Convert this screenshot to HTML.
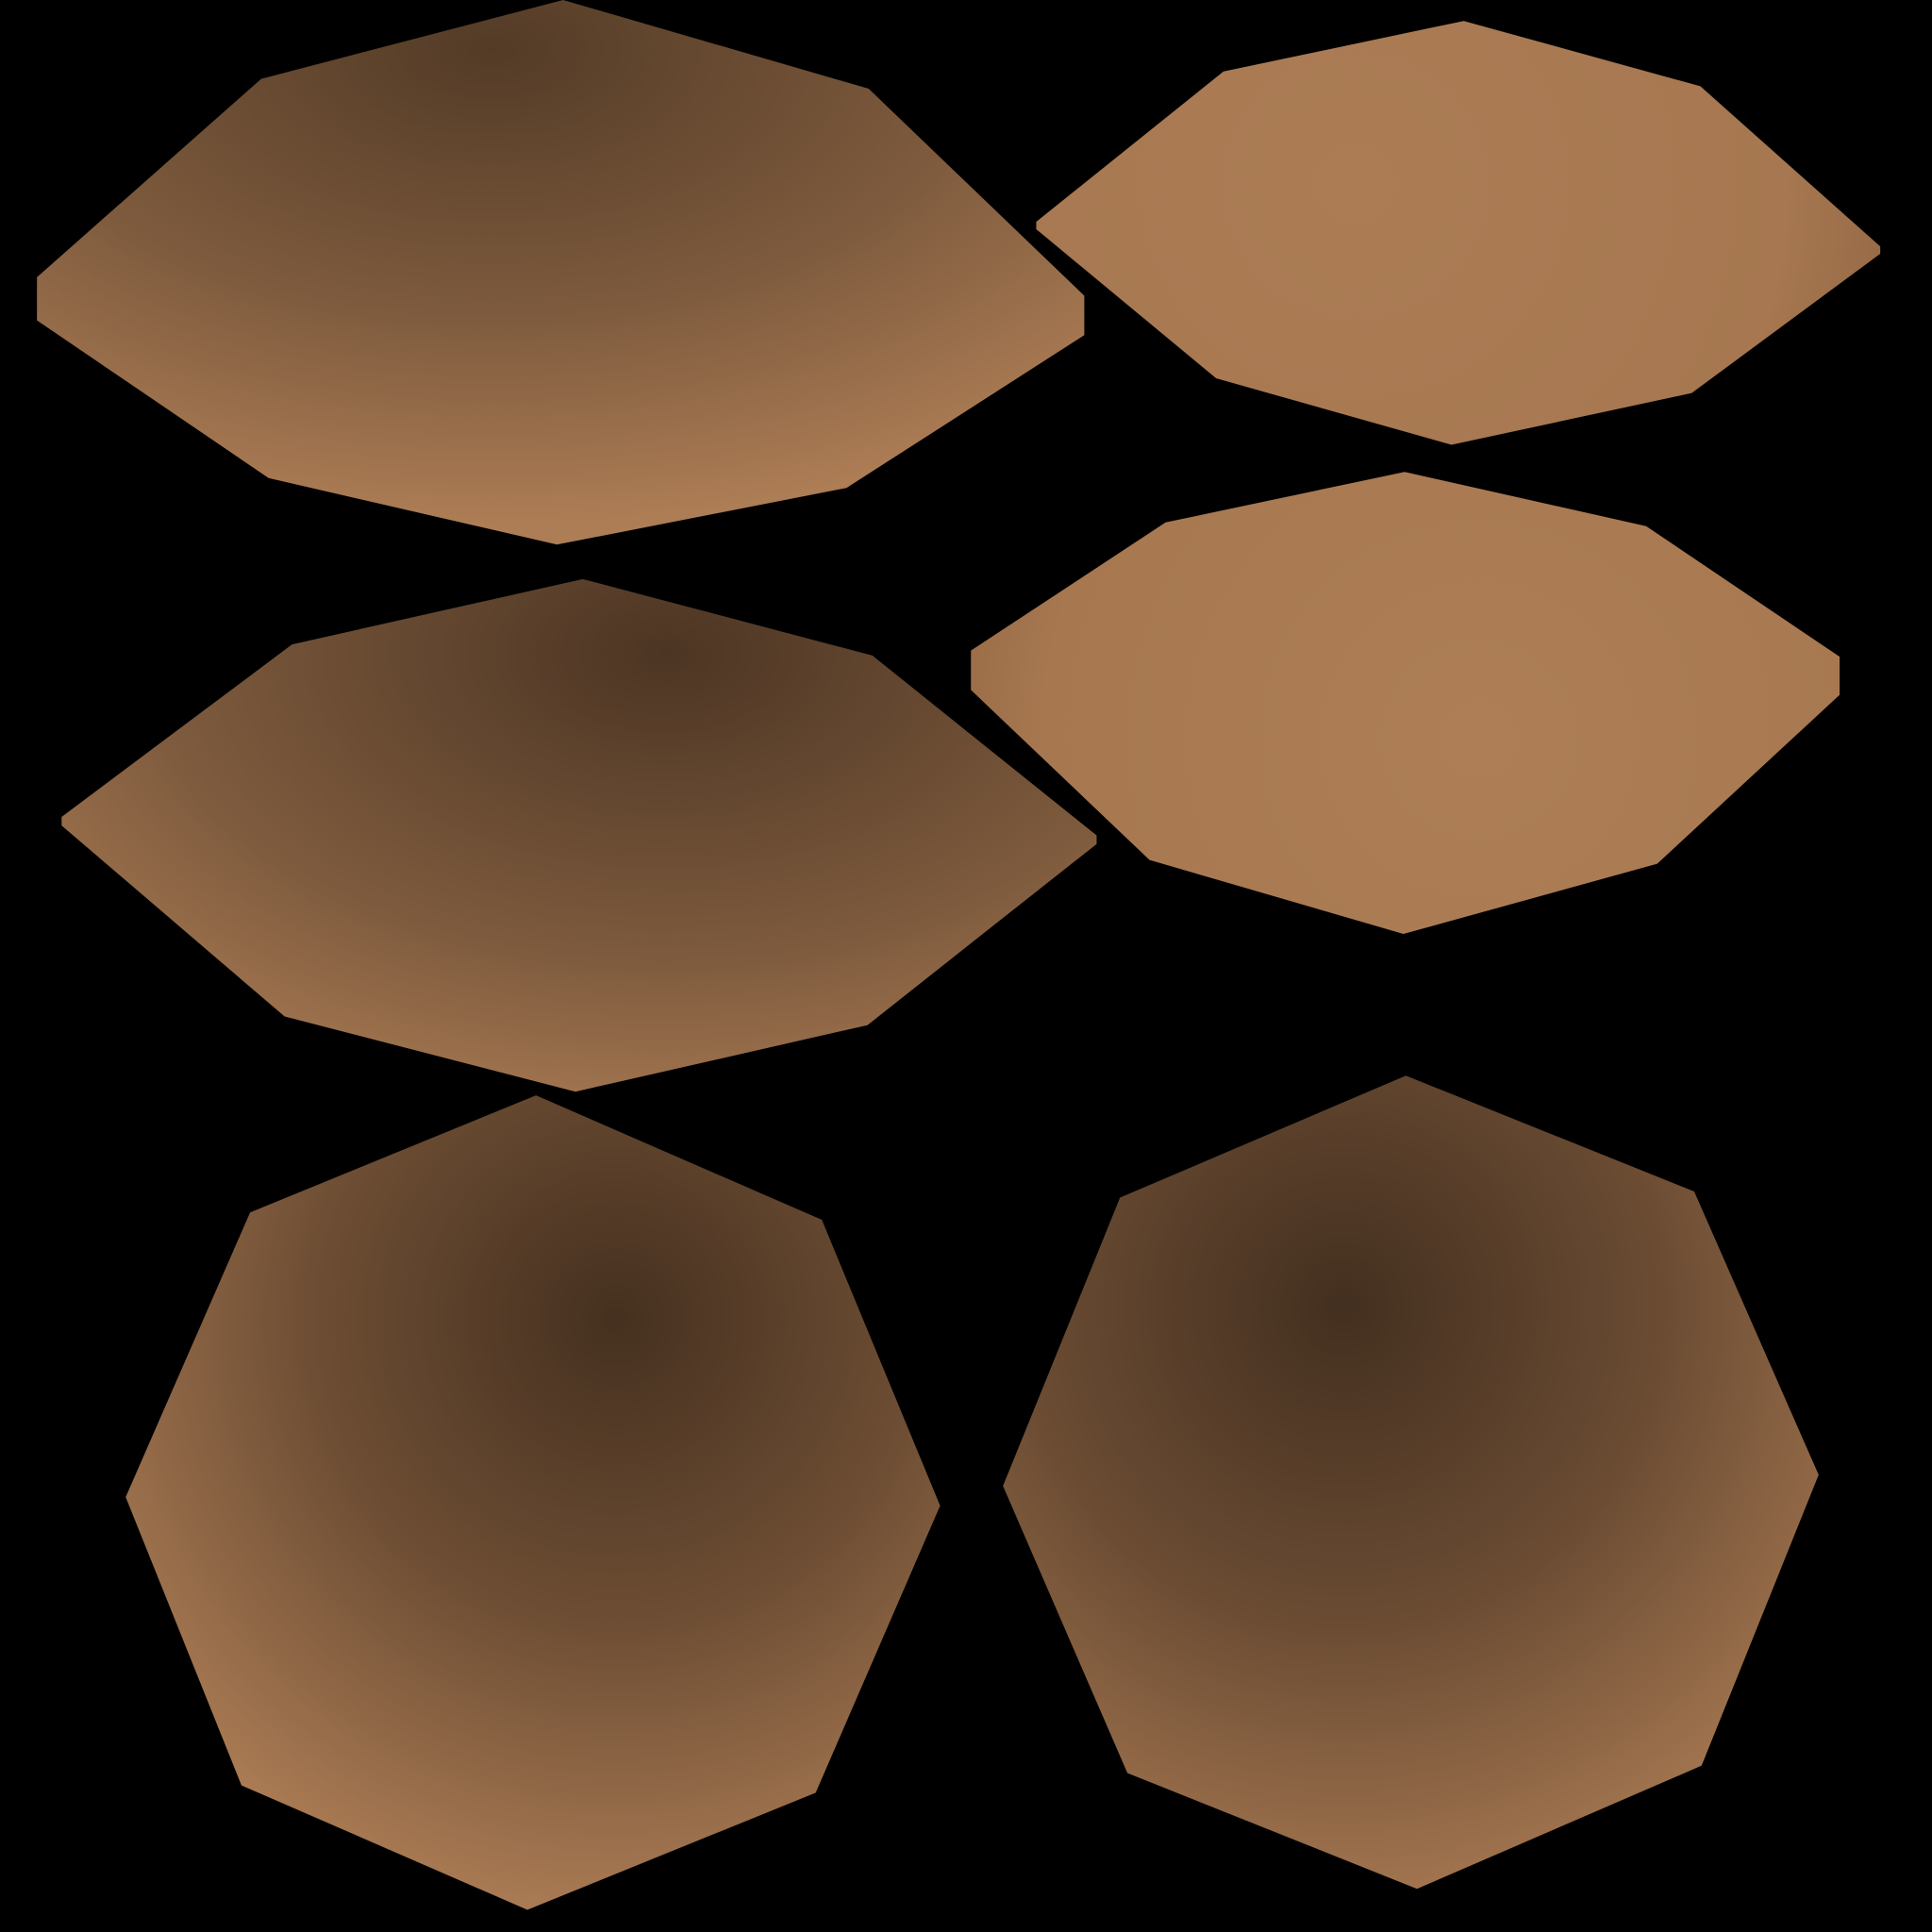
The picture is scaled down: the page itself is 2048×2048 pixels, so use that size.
<!DOCTYPE html>
<html><head><meta charset="utf-8"><style>html,body{margin:0;padding:0;background:#000;width:2048px;height:2048px;overflow:hidden}svg{display:block}</style></head>
<body>
<svg width="2048" height="2048" viewBox="0 0 1568 1568" xmlns="http://www.w3.org/2000/svg">
<defs>
<radialGradient id="g1" gradientUnits="userSpaceOnUse" cx="400" cy="40" r="700" gradientTransform="translate(400 40) scale(1 0.55) translate(-400 -40)">
<stop offset="0" stop-color="#533b26"/><stop offset="0.55" stop-color="#7d5a3d"/><stop offset="1" stop-color="#ad7d55"/></radialGradient>
<radialGradient id="g2" gradientUnits="userSpaceOnUse" cx="1100" cy="150" r="500">
<stop offset="0" stop-color="#ac7d55"/><stop offset="0.7" stop-color="#a67750"/><stop offset="1" stop-color="#8c6240"/></radialGradient>
<radialGradient id="g3" gradientUnits="userSpaceOnUse" cx="540" cy="530" r="680" gradientTransform="translate(540 530) scale(1 0.6) translate(-540 -530)">
<stop offset="0" stop-color="#4c3523"/><stop offset="0.6" stop-color="#7d5a3d"/><stop offset="1" stop-color="#ad7d55"/></radialGradient>
<radialGradient id="g4" gradientUnits="userSpaceOnUse" cx="1200" cy="600" r="500">
<stop offset="0" stop-color="#ae7f57"/><stop offset="0.7" stop-color="#a77850"/><stop offset="1" stop-color="#8d6341"/></radialGradient>
<radialGradient id="g5" gradientUnits="userSpaceOnUse" cx="500" cy="1070" r="500">
<stop offset="0" stop-color="#45301f"/><stop offset="0.5" stop-color="#6e4e34"/><stop offset="1" stop-color="#ae7e56"/></radialGradient>
<radialGradient id="g6" gradientUnits="userSpaceOnUse" cx="1090" cy="1060" r="520">
<stop offset="0" stop-color="#432f1f"/><stop offset="0.5" stop-color="#6b4c33"/><stop offset="1" stop-color="#ac7c54"/></radialGradient>
</defs>
<polygon fill="url(#g1)" points="457,0 705,72 880,240 880,272 687,396 452,442 218,388 30,260 30,225 212,64"/>
<polygon fill="url(#g2)" points="1188,17 1380,70 1526,200 1526,206 1373,319 1178,361 987,307 841,186 841,180 993,58"/>
<polygon fill="url(#g3)" points="473,470 708,532 890,678 890,685 704,832 467,886 231,825 50,670 50,663 237,523"/>
<polygon fill="url(#g4)" points="1140,383 1336,427 1493,533 1493,564 1345,701 1139,758 933,698 788,560 788,528 946,424"/>
<polygon fill="url(#g5)" points="435,889 667,990 763,1222 662,1455 428,1550 196,1449 102,1215 203,984"/>
<polygon fill="url(#g6)" points="1141,873 1375,967 1476,1197 1381,1433 1150,1533 915,1439 814,1206 909,972"/>
</svg>
</body></html>
